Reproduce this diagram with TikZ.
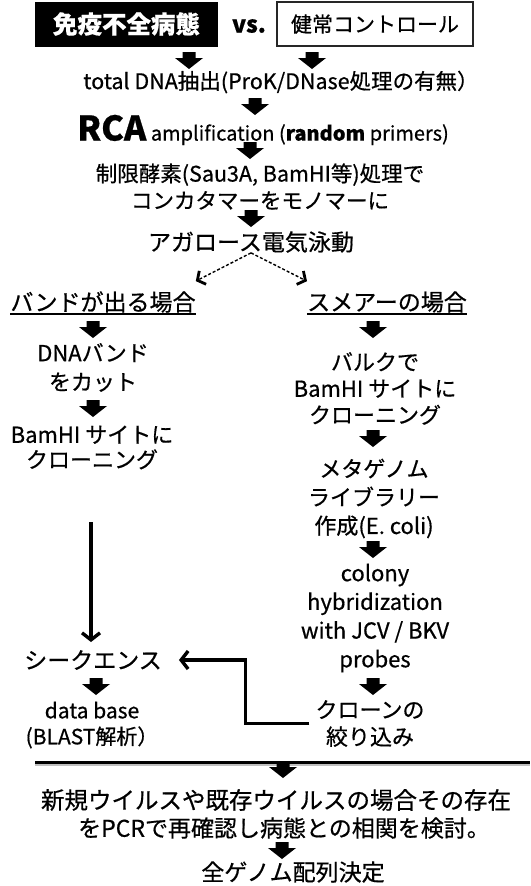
\documentclass[tikz,border=0pt]{standalone}
\usepackage{fontspec}
\setmainfont{Noto Sans CJK JP}[FakeBold=0.6]
\usetikzlibrary{arrows.meta}
\begin{document}
\begin{tikzpicture}[x=1pt,y=-1pt,
  txt/.style={inner sep=0pt, align=center, font=\fontsize{23pt}{28pt}\selectfont},
  blk/.pic={\fill (-6.5,0) -- (6.5,0) -- (6.5,6) -- (14,6) -- (0,17) -- (-14,6) -- (-6.5,6) -- cycle;},
  arr/.style={line width=3.4pt, -{Straight Barb[length=7pt,width=18pt]}},
  dasharr/.style={line width=1.4pt, dash pattern=on 3pt off 2pt, -{Straight Barb[length=6pt,width=15pt,line width=2.8pt]}},
  uline/.style={line width=1.5pt},
  sepline/.style={line width=3pt}
]
\useasboundingbox (0,0) rectangle (530,886);
% top boxes
\node[fill=black, text=white, minimum width=183pt, minimum height=45pt, inner sep=0pt,
      font=\fontsize{24.5pt}{28pt}\selectfont\bfseries] (sick) at (126.5,24) {免疫不全病態};
\node[font=\fontsize{23pt}{28pt}\selectfont\bfseries, inner sep=0pt] (vs) at (249,26) {vs.};
\node[draw=black!85, line width=1.5pt, fill=white, minimum width=196pt, minimum height=44pt, inner sep=0pt,
      font=\fontsize{21pt}{28pt}\selectfont] (ctrl) at (375,24) {健常コントロール};
\pic at (189,52) {blk};
\pic at (312,52) {blk};
\node[txt, font=\fontsize{21.5pt}{28pt}\selectfont] (dna) at (281,82) {total DNA抽出(ProK/DNase処理の有無）};
\pic at (255,98) {blk};
\node[txt, font=\fontsize{20pt}{28pt}\selectfont] (rca) at (263,130) {{\fontsize{34pt}{36pt}\selectfont\bfseries RCA} amplification (\textbf{random} primers)};
\pic at (250,142) {blk};
\node[txt, font=\fontsize{21.5pt}{27pt}\selectfont] (enz) at (260,186.5) {制限酵素(Sau3A, BamHI等)処理で\\コンカタマーをモノマーに};
\pic at (251,210) {blk};
\node[txt] (gel) at (251,242) {アガロース電気泳動};
% branches
\node[txt] (band) at (103,302) {バンドが出る場合};
\node[txt] (smear) at (387,302) {スメアーの場合};
\draw[uline] ([yshift=-1pt]band.south west) -- ([yshift=-1pt]band.south east);
\draw[uline] ([yshift=-1pt]smear.south west) -- ([yshift=-1pt]smear.south east);
\draw[dasharr] (gel.south) -- ([yshift=10pt]band.north east);
\draw[dasharr] (gel.south) -- ([xshift=-80pt,yshift=10pt]smear.north);
% left column
\pic at (93,321) {blk};
\node[txt, font=\fontsize{22pt}{29pt}\selectfont] (cut) at (93,367.5) {DNAバンド\\をカット};
\pic at (93,400) {blk};
\node[txt, font=\fontsize{22pt}{25pt}\selectfont] (cloneL) at (92,447.5) {BamHI サイトに\\クローニング};
\node[txt] (seq) at (93,660) {シークエンス};
\coordinate (lstart) at (91,522);
\draw[arr, shorten >=8pt] (lstart) -- (lstart |- seq.north);
\pic at (96,678) {blk};
\node[txt, font=\fontsize{21pt}{26pt}\selectfont] (db) at (92,725) {data base\\(BLAST解析）};
% right column
\pic at (373,321) {blk};
\node[txt, font=\fontsize{22pt}{26.5pt}\selectfont] (bulk) at (375,388.5) {バルクで\\BamHI サイトに\\クローニング};
\pic at (373,430) {blk};
\node[txt, font=\fontsize{22pt}{28.5pt}\selectfont] (meta) at (374,498.5) {メタゲノム\\ライブラリー\\作成(E. coli)};
\pic at (373,541) {blk};
\node[txt, font=\fontsize{22pt}{28.7pt}\selectfont] (colony) at (375,618) {colony\\hybridization\\with JCV / BKV\\probes};
\pic at (373,678) {blk};
\node[txt, font=\fontsize{22pt}{27pt}\selectfont] (clone) at (370,723.5) {クローンの\\絞り込み};
\draw[arr, shorten >=17pt] ([xshift=-6pt]clone.west) -- ++(-64,0) |- (seq.east);
% separator and bottom
\coordinate (sepL) at (35,762);
\coordinate (sepR) at (530,762);
\draw[sepline, black!25] ([yshift=-2.5pt]sepL) -- ([yshift=-2.5pt]sepR);
\draw[sepline] (sepL) -- (sepR);
\pic at (283,761) {blk};
\node[txt, font=\fontsize{23.5pt}{28pt}\selectfont] (new1) at (276,800) {新規ウイルスや既存ウイルスの場合その存在};
\node[txt, font=\fontsize{23pt}{28pt}\selectfont] (new2) at (284,828) {をPCRで再確認し病態との相関を検討。};
\pic at (282,842) {blk};
\node[txt] (genome) at (293,872) {全ゲノム配列決定};
\end{tikzpicture}
\end{document}
